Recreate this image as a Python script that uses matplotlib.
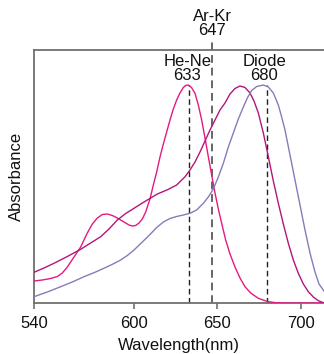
import matplotlib
matplotlib.use("Agg")
import matplotlib.pyplot as plt

plt.rcParams['font.family'] = ['Liberation Sans', 'DejaVu Sans']

# Curve 1: sharp peak near 633 nm (bright pink)
wl_a = [540, 545, 550, 554, 557, 560, 564, 568, 572, 575, 578, 581, 584, 587, 590, 594,
        597, 599, 601, 603, 605, 607, 609.6, 611.6, 613.6, 615.6, 617.6, 619.6, 621.6,
        623.6, 625.6, 627.6, 629.6, 631, 632.6, 634.5, 636.6, 638.6, 640.6, 642.6, 644.6,
        646.6, 648.6, 650.6, 652.6, 655, 657.6, 660.6, 663.6, 666.6, 670, 674.6, 680,
        685, 690, 714]
ab_a = [22, 23, 24.5, 26.5, 30, 36, 46, 56, 70, 79, 85, 88.5, 89, 87.5, 85, 81,
        78, 77, 77.5, 80, 84, 91, 104, 118, 131, 146, 159, 171, 183,
        194, 203, 210, 215.5, 217.5, 218, 215.5, 209.7, 198, 183, 165, 146.3,
        128, 110, 94, 79.7, 63, 49, 36, 25, 16.3, 10, 4.7, 1.5,
        0.3, 0, 0]

# Curve 2: broad peak near 664 nm (dark magenta)
wl_b = [540, 546, 552, 560, 568, 574, 580, 585, 590, 595, 600, 605, 610, 614, 617.6,
        621, 625.6, 628, 630.5, 633.6, 636.6, 639.6, 642.6, 645.6, 648.6, 651.6, 654.6,
        657.6, 660.6, 663.6, 666.6, 669.6, 672, 674.6, 677.6, 680.6, 683.6, 686.6, 689.6,
        692.6, 695.6, 698.6, 701.6, 704.6, 707.6, 710.6, 714]
ab_b = [30.7, 35, 39.7, 46.5, 53.7, 60, 66.3, 74, 83, 89.5, 94.7, 100, 105, 109, 111.5,
        114, 118, 122, 126, 133, 141, 151, 162, 173, 183, 193, 200,
        209, 214.5, 217, 215.5, 210, 202, 190, 170, 146.3, 122, 99.7, 79,
        59.7, 43, 29.7, 19, 11.3, 6, 2.3, 0]

# Curve 3: peak near 677 nm (lavender)
wl_c = [540, 548, 556, 563, 570, 577, 584, 588, 592, 596, 600, 605, 609.6, 613.6, 617.6,
        621.6, 625.6, 629.6, 633.6, 637.6, 641.6, 644.6, 647.6, 650.6, 653.6, 656.6, 659.6,
        662.6, 665.6, 668, 670.6, 673.6, 677.6, 680.6, 683.6, 686.6, 688.6, 690.6, 693.6,
        696.6, 699.6, 702.6, 705.6, 708.6, 711, 714]
ab_c = [6.3, 11, 16.3, 21, 26.3, 31, 36.3, 39.5, 43, 47.5, 53, 61, 68.5, 75.5, 81,
        84.5, 86.5, 88, 89.7, 93, 99.7, 106, 114, 126, 139.7, 156, 170,
        184, 196, 205, 212.5, 216.5, 218, 216, 210, 198, 186, 173, 148,
        123, 98, 73, 50, 31, 19, 12]

laser_pos = [633, 647, 680]
laser_labels = ["He-Ne\n633", "Ar-Kr\n647", "Diode\n680"]

xticks = [540, 600, 650, 700]

W, H = 324, 354
fig = plt.figure(figsize=(W / 100, H / 100), dpi=100)
ax = fig.add_axes([34 / W, 51 / H, (W - 34) / W, 253 / H])

c_pink = '#e5197f'
c_mag = '#b3157c'
c_lav = '#8a7ab8'
ax.plot(wl_a, ab_a, color=c_pink, lw=1.0, zorder=3)
ax.plot(wl_b, ab_b, color=c_mag, lw=1.0, zorder=3)
ax.plot(wl_c, ab_c, color=c_lav, lw=1.0, zorder=3)

ax.set_xlim(540, 714)
ax.set_ylim(0, 253)

spine_col = '#707070'
for s in ['left', 'bottom', 'top']:
    ax.spines[s].set_color(spine_col)
    ax.spines[s].set_linewidth(1.3)
ax.spines['right'].set_visible(False)

# laser lines
ax.vlines(laser_pos[0], 0, max(ab_a), colors='#222222', linestyles=(0, (4, 2.5)), lw=1.0, zorder=2)
ax.vlines(laser_pos[2], 0, max(ab_c), colors='#222222', linestyles=(0, (4, 2.5)), lw=1.0, zorder=2)
ax.vlines(laser_pos[1], 0, 265, colors='#666666', linestyles=(0, (4, 2.5)), lw=1.4, zorder=2, clip_on=False)

fs = 12
ax.text(laser_pos[0] - 1, 220, laser_labels[0], ha='center', va='bottom', fontsize=fs,
        linespacing=0.92, color='#111111')
ax.text(laser_pos[2] - 2, 220, laser_labels[2], ha='center', va='bottom', fontsize=fs,
        linespacing=0.92, color='#111111')
ax.text(laser_pos[1], 265, laser_labels[1], ha='center', va='bottom', fontsize=fs,
        linespacing=0.92, color='#111111', clip_on=False)

ax.set_xticks(xticks)
ax.set_xticklabels([str(t) for t in xticks])
ax.tick_params(axis='x', direction='out', length=4, width=1.2, color=spine_col,
               labelsize=fs, pad=5, labelcolor='#111111')
ax.set_yticks([])
ax.set_xlabel('Wavelength(nm)', fontsize=fs, labelpad=5.5, color='#111111')
ax.set_ylabel('Absorbance', fontsize=fs, labelpad=7, color='#111111')

fig.savefig('out.png', dpi=100)
